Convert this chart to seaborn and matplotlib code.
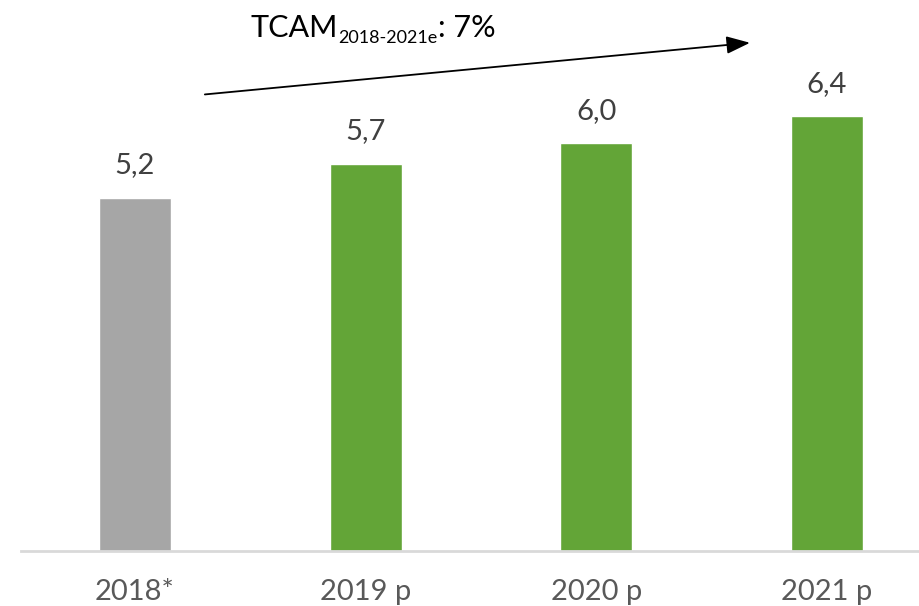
import matplotlib
matplotlib.use("Agg")
import matplotlib.pyplot as plt
from matplotlib.transforms import IdentityTransform
import seaborn as sns
import pandas as pd

categories = ["2018*", "2019 p", "2020 p", "2021 p"]
values = [5.2, 5.7, 6.0, 6.4]
value_labels = ["5,2", "5,7", "6,0", "6,4"]
bar_colors = ["#A6A6A6", "#63A537", "#63A537", "#63A537"]
title_main = "TCAM"
title_sub = "2018-2021e"
title_end = ": 7%"

sns.set_theme(style="white")
plt.rcParams["font.family"] = ["Lato", "DejaVu Sans"]

df = pd.DataFrame({"cat": categories, "val": values})

fig = plt.figure(figsize=(9.2, 6.06), dpi=100)
ax = fig.add_axes([21 / 920, 55 / 606, 1 - 21 / 920, 551 / 606])

sns.barplot(data=df, x="cat", y="val", hue="cat", palette=bar_colors,
            width=0.312, legend=False, ax=ax, saturation=1)

ax.set_xlim(-0.494, 3.403)
ax.set_ylim(0, 8.11)
for s in ["top", "right", "left"]:
    ax.spines[s].set_visible(False)
ax.spines["bottom"].set_color("#D9D9D9")
ax.spines["bottom"].set_linewidth(2)
ax.set_yticks([])
ax.set_xlabel("")
ax.set_ylabel("")
ax.tick_params(axis="x", length=0, pad=20, labelsize=21, labelcolor="#595959")

for i, (v, lab) in enumerate(zip(values, value_labels)):
    ax.annotate(lab, (i, v), xytext=(0, 14), textcoords="offset points",
                ha="center", va="bottom", fontsize=21, color="#404040")

# growth arrow
ax.annotate("", xy=(2.666, 7.48), xytext=(0.303, 6.72),
            arrowprops=dict(arrowstyle="-|>,head_length=1.2,head_width=0.45",
                            color="black", lw=1.3, shrinkA=0, shrinkB=0))

t1 = ax.text(0.50, 7.57, title_main, fontsize=22, color="black", va="baseline", ha="left")
fig.canvas.draw()
r = fig.canvas.get_renderer()
bx = t1.get_window_extent(r).x1
base_y = ax.transData.transform((0.50, 7.57))[1]
t2 = ax.text(bx + 1, base_y - 6, title_sub, fontsize=13, color="black",
             va="baseline", ha="left", transform=IdentityTransform())
fig.canvas.draw()
bx2 = t2.get_window_extent(r).x1
ax.text(bx2, base_y, title_end, fontsize=22, color="black", va="baseline",
        ha="left", transform=IdentityTransform())

fig.savefig("out.png", dpi=100)
